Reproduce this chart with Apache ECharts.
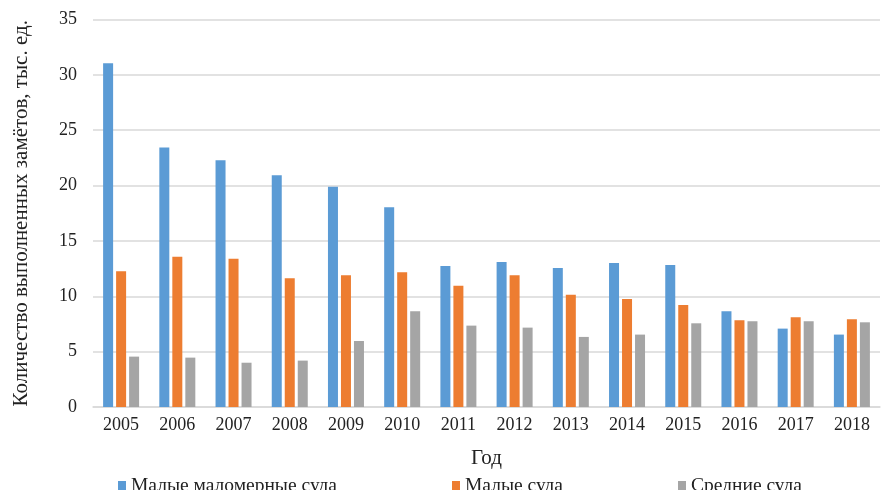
<!DOCTYPE html>
<html><head><meta charset="utf-8">
<script src="https://cdn.jsdelivr.net/npm/echarts@6/dist/echarts.min.js"></script>
<style>html,body{margin:0;padding:0;background:#fff}#c{width:884px;height:490px}</style>
</head><body><div id="c"></div>
<script>
const years = ['2005','2006','2007','2008','2009','2010','2011','2012','2013','2014','2015','2016','2017','2018'];
const smallSmallBoats = [31.05,23.43,22.29,20.93,19.9,18.04,12.74,13.1,12.56,13.01,12.83,8.64,7.08,6.54];
const smallBoats = [12.26,13.58,13.4,11.63,11.9,12.17,10.96,11.9,10.15,9.76,9.22,7.83,8.1,7.92];
const mediumBoats = [4.55,4.46,4.0,4.19,5.96,8.64,7.35,7.17,6.33,6.54,7.56,7.74,7.74,7.65];
const seriesNames = ['Малые маломерные суда','Малые суда','Средние суда'];
const colors = ['#5B9BD5','#ED7D31','#A5A5A5'];
const font = '"Liberation Serif","DejaVu Serif",serif';
const chart = echarts.init(document.getElementById('c'));
const legendBase = {top: 471, itemWidth: 8, itemHeight: 10, itemGap: 4, icon: 'rect',
  textStyle: {fontFamily: font, fontSize: 19.5, color: '#222'}};
chart.setOption({
  animation: false,
  color: colors,
  grid: {left: 93, right: 4, top: 19.5, bottom: 83},
  legend: [
    Object.assign({left: 113, data: [seriesNames[0]]}, legendBase),
    Object.assign({left: 447, data: [seriesNames[1]]}, legendBase),
    Object.assign({left: 673, data: [seriesNames[2]]}, legendBase)
  ],
  xAxis: {
    type: 'category', data: years,
    name: 'Год', nameLocation: 'middle', nameGap: 41,
    nameTextStyle: {fontFamily: font, fontSize: 21, color: '#222'},
    axisLine: {show: true, lineStyle: {color: '#d9d9d9', width: 1.5}},
    axisTick: {show: false},
    axisLabel: {fontFamily: font, fontSize: 18, color: '#222', margin: 9}
  },
  yAxis: {
    type: 'value', min: 0, max: 35, interval: 5,
    name: 'Количество выполненных замётов, тыс. ед.', nameLocation: 'middle', nameGap: 61,
    nameTextStyle: {fontFamily: font, fontSize: 21, color: '#222'},
    axisLine: {show: false}, axisTick: {show: false},
    axisLabel: {fontFamily: font, fontSize: 18, color: '#222', margin: 16},
    splitLine: {lineStyle: {color: '#d9d9d9', width: 1.5}}
  },
  series: [
    {name: seriesNames[0], type: 'bar', data: smallSmallBoats, barWidth: 10, barGap: '30%'},
    {name: seriesNames[1], type: 'bar', data: smallBoats, barWidth: 10, barGap: '30%'},
    {name: seriesNames[2], type: 'bar', data: mediumBoats, barWidth: 10, barGap: '30%'}
  ]
});
</script></body></html>
